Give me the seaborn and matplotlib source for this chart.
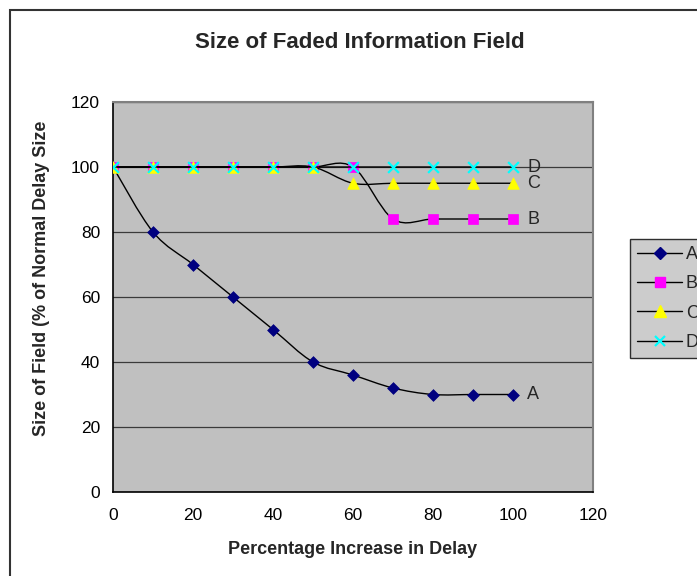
import numpy as np
import pandas as pd
import matplotlib
matplotlib.use("Agg")
import matplotlib.pyplot as plt
import seaborn as sns
from matplotlib.path import Path
from matplotlib.patches import PathPatch, Rectangle
from matplotlib.lines import Line2D

# Data
delay_increase = [0, 10, 20, 30, 40, 50, 60, 70, 80, 90, 100]
field_a = [100, 80, 70, 60, 50, 40, 36, 32, 30, 30, 30]
field_b = [100, 100, 100, 100, 100, 100, 100, 84, 84, 84, 84]
field_c = [100, 100, 100, 100, 100, 100, 95, 95, 95, 95, 95]
field_d = [100, 100, 100, 100, 100, 100, 100, 100, 100, 100, 100]
series_names = ["A", "B", "C", "D"]
x_ticks = [0, 20, 40, 60, 80, 100, 120]
y_ticks = [0, 20, 40, 60, 80, 100, 120]

sns.set_style("white", {"axes.facecolor": "#c0c0c0"})
plt.rcParams["font.family"] = ["Liberation Sans", "DejaVu Sans"]

df = pd.DataFrame({
    "delay": delay_increase * 4,
    "size": field_a + field_b + field_c + field_d,
    "series": [s for s in series_names for _ in delay_increase],
})

styles = {
    "A": dict(marker="D", color="#000080", s=36),
    "B": dict(marker="s", color="#ff00ff", s=56),
    "C": dict(marker="^", color="#ffff00", s=70),
    "D": dict(marker="x", color="#00ffff", s=60),
}

fig = plt.figure(figsize=(6.97, 5.76), dpi=100)
ax = fig.add_axes([113 / 697, 1 - 492 / 576, 480 / 697, 390 / 576])


def smooth_path(xs, ys):
    """Cubic Bezier path through the points (Catmull-Rom style tangents)."""
    pts = np.column_stack([xs, ys]).astype(float)
    n = len(pts)
    verts = [pts[0]]
    codes = [Path.MOVETO]
    for i in range(n - 1):
        p0 = pts[i - 1] if i > 0 else pts[i]
        p1 = pts[i]
        p2 = pts[i + 1]
        p3 = pts[i + 2] if i + 2 < n else pts[i + 1]
        c1 = p1 + (p2 - p0) / 6.0
        c2 = p2 - (p3 - p1) / 6.0
        verts += [c1, c2, p2]
        codes += [Path.CURVE4] * 3
    return Path(verts, codes)


for k, name in enumerate(series_names):
    sub = df[df["series"] == name]
    ax.add_patch(PathPatch(smooth_path(sub["delay"].values, sub["size"].values),
                           facecolor="none", edgecolor="black", lw=1.0,
                           zorder=3 + 2 * k))
    st = styles[name]
    if st["marker"] == "x":
        sns.scatterplot(data=sub, x="delay", y="size", marker="x", color=st["color"],
                        s=st["s"], linewidth=1.6, ax=ax, zorder=4 + 2 * k, legend=False)
    else:
        sns.scatterplot(data=sub, x="delay", y="size", marker=st["marker"], color=st["color"],
                        edgecolor=st["color"], linewidth=0.5, s=st["s"], ax=ax,
                        zorder=4 + 2 * k, legend=False)
    # series name beside the last point
    ax.text(sub["delay"].values[-1] + 3.6, sub["size"].values[-1], name,
            fontsize=13, va="center", ha="left", zorder=20)

ax.set_xlim(0, 120)
ax.set_ylim(0, 120)
ax.set_xticks(x_ticks)
ax.set_yticks(y_ticks)
ax.tick_params(axis="both", labelsize=12.5, length=4.3, width=1, direction="out",
               colors="black")
ax.tick_params(axis="y", pad=5)
ax.tick_params(axis="x", pad=7)
ax.yaxis.grid(True, color="#3a3a3a", lw=0.9)
ax.set_axisbelow(True)
for side in ["left", "bottom"]:
    ax.spines[side].set_color("black")
    ax.spines[side].set_linewidth(1.2)
for side in ["top", "right"]:
    ax.spines[side].set_visible(True)
    ax.spines[side].set_color("#808080")
    ax.spines[side].set_linewidth(1.5)
ax.set_xlabel("")
ax.set_ylabel("")

fig.text(353 / 697, 1 - 550 / 576, "Percentage Increase in Delay",
         ha="center", va="center", fontsize=13, fontweight="bold")
fig.text(42 / 697, 1 - 278 / 576, "Size of Field (% of Normal Delay Size",
         ha="center", va="center", rotation=90, fontsize=13, fontweight="bold")
fig.text(360 / 697, 1 - 42 / 576, "Size of Faded Information Field",
         ha="center", va="center", fontsize=16, fontweight="bold")

handles = []
for name in series_names:
    st = styles[name]
    ms = np.sqrt(st["s"])
    if st["marker"] == "x":
        h = Line2D([], [], color="black", lw=1.0, marker="x", ms=ms,
                   mec=st["color"], mew=1.6)
    else:
        h = Line2D([], [], color="black", lw=1.0, marker=st["marker"], ms=ms,
                   mfc=st["color"], mec=st["color"])
    handles.append(h)
leg = fig.legend(handles, series_names, loc="upper left",
                 bbox_to_anchor=(630 / 697, 1 - 239 / 576), frameon=True,
                 fancybox=False, edgecolor="black", fontsize=13,
                 handlelength=2.5, handletextpad=0.2, labelspacing=0.68,
                 borderpad=0.4, borderaxespad=0)
leg.get_frame().set_linewidth(1.0)

# chart frame
fig.patches.append(Rectangle((10 / 697, -0.2), 2.0, 1.2 - 10 / 576,
                             transform=fig.transFigure, fill=False,
                             edgecolor="#333333", lw=1.5))

fig.savefig("out.png", dpi=100)
